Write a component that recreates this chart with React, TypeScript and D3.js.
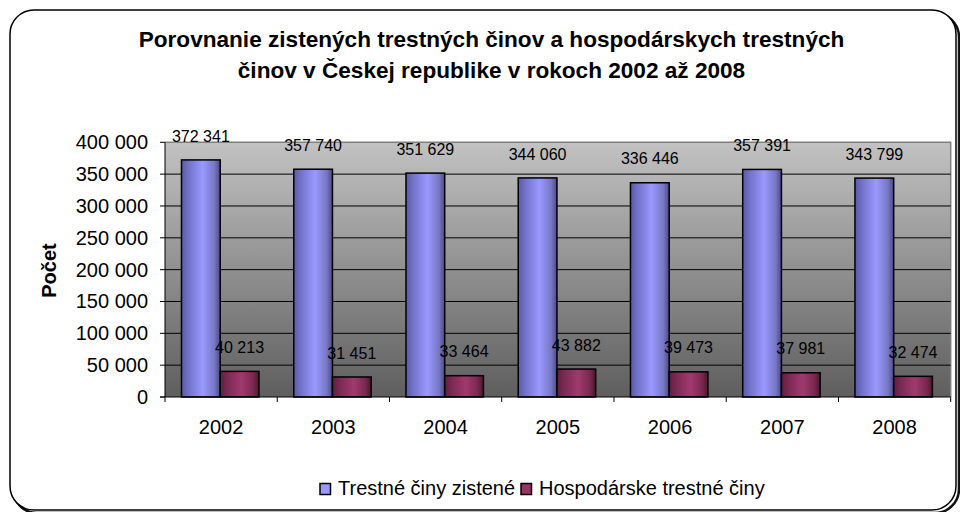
import React from "react";
import * as d3 from "d3";

const years = ["2002", "2003", "2004", "2005", "2006", "2007", "2008"];
const zistene = [372341, 357740, 351629, 344060, 336446, 357391, 343799];
const hospodarske = [40213, 31451, 33464, 43882, 39473, 37981, 32474];
const seriesNames = ["Trestné činy zistené", "Hospodárske trestné činy"];
const yTicks = [0, 50000, 100000, 150000, 200000, 250000, 300000, 350000, 400000];
const titleLines = [
  "Porovnanie zistených trestných činov a hospodárskych trestných",
  "činov v Českej republike v rokoch 2002 až 2008",
];

const W = 960;
const H = 512;
const plot = { left: 165, right: 950.7, top: 142.3, bottom: 397 };
const FONT = "'Liberation Sans', Arial, sans-serif";

const fmt = (v: number) => {
  const s = String(v);
  return s.replace(/\B(?=(\d{3})+(?!\d))/g, " ");
};

export default function App() {
  const x = d3.scaleBand<string>().domain(years).range([plot.left, plot.right]).padding(0);
  const y = d3.scaleLinear().domain([0, 400000]).range([plot.bottom, plot.top]);
  const bw = x.bandwidth();
  const barW = bw * 0.345;
  const off = bw * 0.147;
  const inner = d3.scaleBand<string>().domain(["a", "b"]).range([off, off + 2 * barW]).padding(0);
  const data = [
    { key: "a", values: zistene, grad: "gBlue", sw: "#9999ff" },
    { key: "b", values: hospodarske, grad: "gMaroon", sw: "#993366" },
  ];

  return (
    <svg width={W} height={H} style={{ position: "absolute", left: 0, top: 0 }} fontFamily={FONT}>
      <defs>
        <linearGradient id="gBg" x1="0" y1="0" x2="0" y2="1">
          <stop offset="0" stopColor="#c2c2c2" />
          <stop offset="1" stopColor="#5e5e5e" />
        </linearGradient>
        <linearGradient id="gBlue" x1="0" y1="0" x2="1" y2="0">
          <stop offset="0" stopColor="#5a5aa6" />
          <stop offset="0.2" stopColor="#7474cc" />
          <stop offset="0.55" stopColor="#9999ff" />
          <stop offset="0.85" stopColor="#7777c4" />
          <stop offset="1" stopColor="#4a4a88" />
        </linearGradient>
        <linearGradient id="gMaroon" x1="0" y1="0" x2="1" y2="0">
          <stop offset="0" stopColor="#5e1f3e" />
          <stop offset="0.2" stopColor="#7e2a54" />
          <stop offset="0.55" stopColor="#a03a6e" />
          <stop offset="0.85" stopColor="#7a2850" />
          <stop offset="1" stopColor="#4a1830" />
        </linearGradient>
      </defs>
      <rect x={0} y={0} width={W} height={H} fill="#fff" />
      {/* frame shadow + frame */}
      <rect x={13} y={13} width={946} height={500} rx={24} fill="none" stroke="#111" strokeWidth={2.5} />
      <rect x={10} y={10} width={946} height={500} rx={24} fill="#fff" stroke="#000" strokeWidth={1.5} />

      {/* title */}
      {titleLines.map((t, i) => (
        <text key={i} x={491.5} y={47 + i * 31} textAnchor="middle" fontSize={22.6} fontWeight="bold" fill="#000">
          {t}
        </text>
      ))}

      {/* plot area */}
      <rect x={plot.left} y={plot.top} width={plot.right - plot.left} height={plot.bottom - plot.top} fill="url(#gBg)" />
      <path
        d={`M${plot.left},${plot.top}H${plot.right}V${plot.bottom}`}
        fill="none"
        stroke="#808080"
        strokeWidth={1.5}
      />
      {yTicks.slice(1, -1).map((t) => (
        <line key={t} x1={plot.left} x2={plot.right} y1={y(t)} y2={y(t)} stroke="#000" strokeWidth={1} />
      ))}

      {/* bars */}
      {data.map((s) =>
        s.values.map((v, i) => {
          const bx = (x(years[i]) as number) + (inner(s.key) as number);
          return (
            <rect
              key={s.key + i}
              x={bx}
              y={y(v)}
              width={barW}
              height={y(0) - y(v)}
              fill={`url(#${s.grad})`}
              stroke="#000"
              strokeWidth={1.5}
            />
          );
        })
      )}

      {/* data labels */}
      {data.map((s) =>
        s.values.map((v, i) => {
          const cx = (x(years[i]) as number) + (inner(s.key) as number) + barW / 2;
          return (
            <text key={"l" + s.key + i} x={cx} y={y(v) - 24} dy="0.35em" textAnchor="middle" fontSize={16} fill="#000">
              {fmt(v)}
            </text>
          );
        })
      )}

      {/* y axis */}
      <line x1={plot.left} x2={plot.left} y1={plot.top} y2={plot.bottom} stroke="#000" strokeWidth={1} />
      {yTicks.map((t) => (
        <g key={"yt" + t}>
          <line x1={plot.left - 5} x2={plot.left} y1={y(t)} y2={y(t)} stroke="#000" strokeWidth={1} />
          <text x={148} y={y(t)} dy="0.35em" textAnchor="end" fontSize={20} fill="#000">
            {fmt(t)}
          </text>
        </g>
      ))}
      <text
        transform={`translate(56,270.5) rotate(-90)`}
        textAnchor="middle"
        fontSize={20}
        fontWeight="bold"
        fill="#000"
      >
        Počet
      </text>

      {/* x axis */}
      <line x1={plot.left - 5} x2={plot.right} y1={plot.bottom} y2={plot.bottom} stroke="#000" strokeWidth={1} />
      {[...years.map((c) => x(c) as number), plot.right].map((px, i) => (
        <line key={"xt" + i} x1={px} x2={px} y1={plot.bottom} y2={plot.bottom + 5} stroke="#000" strokeWidth={1} />
      ))}
      {years.map((c) => (
        <text key={"xl" + c} x={(x(c) as number) + bw / 2} y={434} textAnchor="middle" fontSize={20} fill="#000">
          {c}
        </text>
      ))}

      {/* legend */}
      {[
        { sx: 320, tx: 338, c: data[0].sw, n: seriesNames[0] },
        { sx: 521, tx: 539, c: data[1].sw, n: seriesNames[1] },
      ].map((l, i) => (
        <g key={"lg" + i}>
          <rect x={l.sx} y={483.5} width={10.5} height={11} fill={l.c} stroke="#000" strokeWidth={1.5} />
          <text x={l.tx} y={495} fontSize={20} fill="#000">
            {l.n}
          </text>
        </g>
      ))}
    </svg>
  );
}
